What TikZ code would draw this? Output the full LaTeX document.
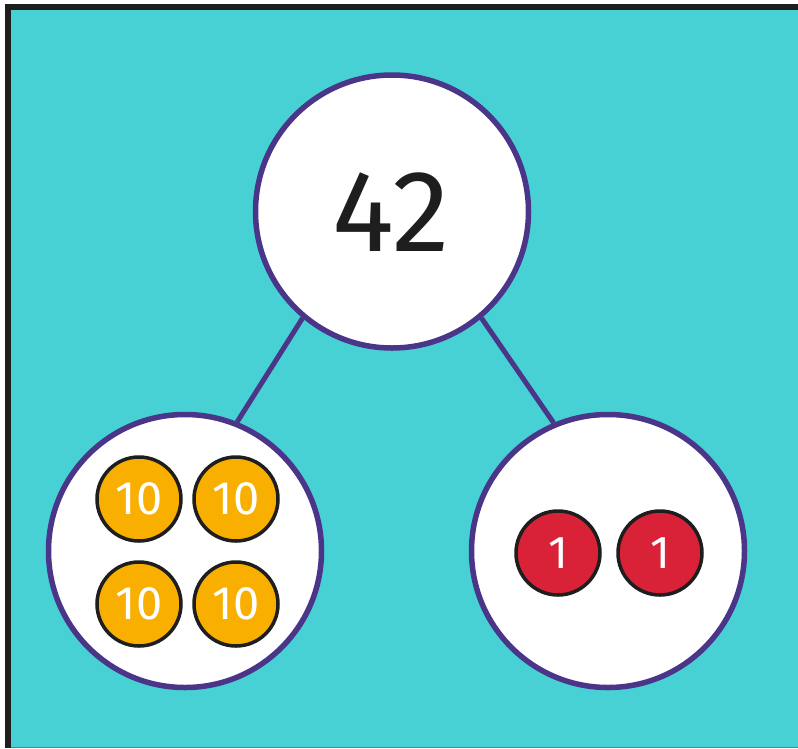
\documentclass[tikz,border=0pt]{standalone}
\usepackage{fontspec}
\setmainfont{Fira Sans}
\definecolor{bgteal}{HTML}{48D1D4}
\definecolor{rimpurple}{HTML}{4A3589}
\definecolor{coinyellow}{HTML}{F9AF00}
\definecolor{coinred}{HTML}{D92137}
\definecolor{inkblack}{HTML}{1E1E1E}
\tikzset{
  part/.style={circle, draw=rimpurple, line width=5.5pt, fill=white,
    minimum size=273pt, inner sep=0pt},
  link/.style={draw=rimpurple, line width=5pt},
  coin/.style={circle, draw=inkblack, line width=3.5pt, minimum size=84pt,
    inner sep=0pt, text=white, font=\fontsize{47}{47}\selectfont},
  tencoin/.style={coin, fill=coinyellow},
  onecoin/.style={coin, fill=coinred, font=\fontsize{46}{46}\selectfont},
}
\begin{document}
\begin{tikzpicture}[x=1pt, y=-1pt]
  \useasboundingbox (0,0) rectangle (798,748);
  % frame and background
  \fill[white] (0,0) rectangle (798,748);
  \fill[inkblack] (5,4) rectangle (798,748);
  \fill[bgteal] (11,10) rectangle (798,748);
  \draw[bgteal!70!black, line width=1pt] (11,747.5) -- (798,747.5);
  % part-whole circles
  \node[part] (whole) at (392,211.5) {};
  \node[part] (left) at (185,551) {};
  \node[part] (right) at (608,551) {};
  \node[font=\fontsize{116}{116}\selectfont, text=inkblack] (num) at (391,212) {42};
  % connectors
  \draw[link] (whole.230) -- (left.68);
  \draw[link] (whole.310) -- (right.113);
  % tens
  \node[tencoin] (t1) at (139,499) {10};
  \node[tencoin] (t2) at (236,499) {10};
  \node[tencoin] (t3) at (139,604) {10};
  \node[tencoin] (t4) at (236,604) {10};
  % ones
  \node[onecoin] (o1) at (558,553) {1};
  \node[onecoin] (o2) at (660,553) {1};
\end{tikzpicture}
\end{document}
